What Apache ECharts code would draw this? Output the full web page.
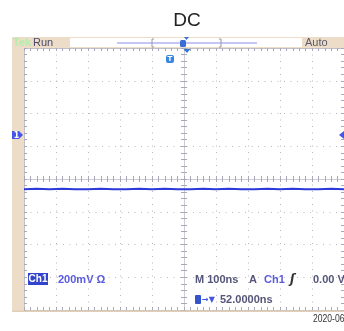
<!DOCTYPE html>
<html><head><meta charset="utf-8">
<script src="https://cdn.jsdelivr.net/npm/echarts@6/dist/echarts.min.js"></script>
<style>html,body{margin:0;padding:0;background:#fff}#c{width:344px;height:331px}</style>
</head><body><div id="c"></div>
<script>
// Time axis: 100 ns/div, 10 divisions, trigger at centre
const timeMin = -500, timeMax = 500, timeDiv = 100, timeMinor = 20;
// Vertical axis in divisions (200 mV/div), 8 divisions
const divMin = -4, divMax = 4, divMajor = 1, divMinor = 0.2;
const traceTimes = [-500,-460,-420,-380,-340,-300,-260,-220,-180,-140,-100,-60,-20,20,60,100,140,180,220,260,300,340,380,420,460,500];
const traceValues = [-0.31,-0.30,-0.31,-0.30,-0.31,-0.31,-0.30,-0.31,-0.31,-0.30,-0.31,-0.30,-0.31,-0.31,-0.30,-0.31,-0.30,-0.31,-0.31,-0.30,-0.31,-0.30,-0.31,-0.31,-0.30,-0.31];
const titleText = 'DC';
const statusLeft = 'Run', statusRight = 'Auto';
const chLabel = 'Ch1', voltsLabel = '200mV Ω';
const timebaseLabel = 'M 100ns', trigModeLabel = 'A', trigSrcLabel = 'Ch1', trigLevelLabel = '0.00 V';
const posLabel = '52.0000ns';
const stampLabel = '2020-06-26';

const beige = '#ecdcc8';
const gridCol = '#b8b8b8';
const tickCol = '#a8a8b8';
const blue = '#2b3ad8';

function tickAxis(dim, pos, onZero, len) {
  const isX = dim === 'x';
  return {
    type: 'value', position: pos,
    min: isX ? timeMin : divMin, max: isX ? timeMax : divMax,
    interval: isX ? timeMinor : divMinor,
    axisLine: { show: true, onZero: onZero, onZeroAxisIndex: onZero ? 0 : undefined,
      lineStyle: { color: onZero ? '#cdcdd8' : '#c0c0c8', width: 1 } },
    axisTick: { show: true, inside: true, length: len, lineStyle: { color: tickCol } },
    axisLabel: { show: false }, splitLine: { show: false }
  };
}

const xAxes = [
  { type: 'value', min: timeMin, max: timeMax, interval: timeDiv,
    axisLine: { show: false }, axisTick: { show: false }, axisLabel: { show: false },
    splitLine: { show: true, lineStyle: { color: gridCol, width: 1, type: [1, 5.5] } } },
  tickAxis('x', 'bottom', false, 3),
  tickAxis('x', 'top', false, 3),
  tickAxis('x', 'bottom', true, 3),
  tickAxis('x', 'top', true, 3)
];
const yAxes = [
  { type: 'value', min: divMin, max: divMax, interval: divMajor,
    axisLine: { show: false }, axisTick: { show: false }, axisLabel: { show: false },
    splitLine: { show: true, lineStyle: { color: gridCol, width: 1, type: [1, 5.5] } } },
  tickAxis('y', 'left', false, 3),
  tickAxis('y', 'right', false, 3),
  tickAxis('y', 'left', true, 3),
  tickAxis('y', 'right', true, 3)
];

const font = 'bold 11px "Liberation Sans", Arial, sans-serif';
function txt(x, y, s, fill, f, align, sx) {
  return { type: 'text', x: x, y: y, z: 20, scaleX: sx || 1,
    style: { text: s, fill: fill, font: f || font, align: align || 'left', verticalAlign: 'middle' } };
}

const graphics = [
  // top status bar
  { type: 'rect', shape: { x: 12, y: 37, width: 332, height: 11 }, style: { fill: beige }, z: 5 },
  { type: 'rect', shape: { x: 70, y: 38, width: 232, height: 9 }, style: { fill: '#fff' }, z: 6 },
  txt(13, 43, 'Tek', '#b6ecaa', 'bold 11px "Liberation Sans", Arial, sans-serif'),
  txt(33, 43, statusLeft, '#4a4a6a', '11px "Liberation Sans", Arial, sans-serif'),
  txt(305, 43, statusRight, '#5a5a6a', '11px "Liberation Sans", Arial, sans-serif'),
  { type: 'line', shape: { x1: 117, y1: 43, x2: 257, y2: 43 }, style: { stroke: '#8c8cf0', lineWidth: 1.2 }, z: 7 },
  { type: 'polyline', shape: { points: [[154, 39], [152, 39], [152, 47], [154, 47]] }, style: { stroke: '#999', fill: null, lineWidth: 1 }, z: 7 },
  { type: 'polyline', shape: { points: [[219, 39], [221, 39], [221, 47], [219, 47]] }, style: { stroke: '#999', fill: null, lineWidth: 1 }, z: 7 },
  { type: 'rect', shape: { x: 180, y: 40, width: 6, height: 7, r: 1.5 }, style: { fill: '#3a6fd8' }, z: 8 },
  { type: 'polygon', shape: { points: [[184, 37], [189, 37], [186.5, 40]] }, style: { fill: '#3a6fd8' }, z: 8 },
  // left strip
  { type: 'rect', shape: { x: 12, y: 48, width: 12, height: 264 }, style: { fill: beige }, z: 5 },
  { type: 'rect', shape: { x: 12, y: 310.5, width: 332, height: 1.5 }, style: { fill: '#e2cdb6' }, z: 5 },
  // markers
  { type: 'polygon', shape: { points: [[12, 131], [19, 131], [23, 135], [19, 139], [12, 139]] }, style: { fill: '#4656e6' }, z: 10 },
  txt(16.5, 135.5, '1', '#fff', 'bold 8px "DejaVu Sans", sans-serif', 'center'),
  { type: 'polygon', shape: { points: [[344, 131], [339, 135], [344, 139]] }, style: { fill: '#4656e6' }, z: 10 },
  { type: 'polygon', shape: { points: [[183.5, 49], [190.5, 49], [187, 53]] }, style: { fill: '#2f78d6' }, z: 10 },
  { type: 'rect', shape: { x: 166, y: 55, width: 8, height: 8, r: 2 }, style: { fill: '#3a86df' }, z: 10 },
  txt(170, 59.5, 'T', '#fff', 'bold 7px "DejaVu Sans", sans-serif', 'center'),
  // readouts
  { type: 'rect', shape: { x: 28, y: 273, width: 20, height: 12 }, style: { fill: '#3344cc' }, z: 10 },
  txt(38, 279.5, chLabel, '#fff', 'bold 10px "Liberation Sans", Arial, sans-serif', 'center'),
  txt(58, 279.5, voltsLabel, '#5b5be0'),
  txt(195, 279.5, timebaseLabel, '#55557a'),
  txt(249, 279.5, trigModeLabel, '#55557a'),
  txt(264, 279.5, trigSrcLabel, '#5b5be0'),
  txt(290, 279.5, 'ʃ', '#333', 'italic bold 12px "DejaVu Sans", sans-serif'),
  txt(313, 279.5, trigLevelLabel, '#55557a'),
  { type: 'rect', shape: { x: 195, y: 295, width: 6, height: 9, r: 1 }, style: { fill: '#3355cc' }, z: 10 },
  txt(202, 299.5, '→▼', '#4455dd', 'bold 8px "DejaVu Sans", sans-serif'),
  txt(220, 300, posLabel, '#55557a'),
  txt(313, 318.5, stampLabel, '#333', '11px "Liberation Sans", Arial, sans-serif', 'left', 0.78)
];

const chart = echarts.init(document.getElementById('c'), null, { renderer: 'canvas' });
chart.setOption({
  animation: false,
  backgroundColor: '#fff',
  title: { text: titleText, left: 182, top: 6, textAlign: 'center',
    textStyle: { fontFamily: '"Liberation Sans", Arial, sans-serif', fontWeight: 'normal', fontSize: 19, color: '#222' } },
  grid: { left: 24, top: 48, width: 325, height: 262, containLabel: false },
  xAxis: xAxes,
  yAxis: yAxes,
  series: [{
    type: 'line', xAxisIndex: 0, yAxisIndex: 0, symbol: 'none', z: 15,
    data: traceTimes.map((t, i) => [t, traceValues[i]]),
    lineStyle: { color: blue, width: 2 }
  }],
  graphic: graphics
});
</script></body></html>
